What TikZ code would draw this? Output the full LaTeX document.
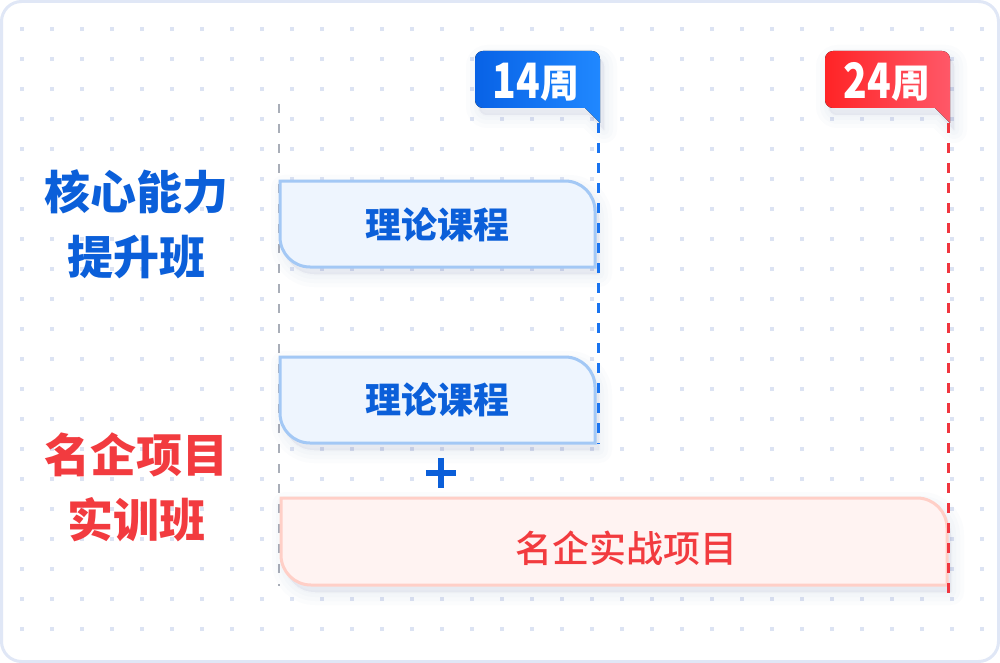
\documentclass[tikz,border=0pt]{standalone}
\usepackage{fontspec}
\newfontfamily\cjk{Noto Sans CJK SC}
\newfontfamily\cjkmed{Noto Sans CJK SC Medium}
\definecolor{framec}{HTML}{E0E7F6}
\definecolor{dotc}{HTML}{DCE3F3}
\definecolor{grayd}{HTML}{A9AEB8}
\definecolor{bfill}{HTML}{EEF5FE}
\definecolor{bline}{HTML}{A3C8F5}
\definecolor{btext}{HTML}{0B5FD9}
\definecolor{bdash}{HTML}{1A74F0}
\definecolor{rfill}{HTML}{FFF3F2}
\definecolor{rline}{HTML}{FFCFC7}
\definecolor{rtext}{HTML}{F23B3F}
\definecolor{rdash}{HTML}{F0363F}
\definecolor{tagb1}{HTML}{0862E6}
\definecolor{tagb2}{HTML}{2088FF}
\definecolor{tagr1}{HTML}{FF2426}
\definecolor{tagr2}{HTML}{FF5868}
\definecolor{shadc}{HTML}{5A6AAA}
\tikzset{
  lbl/.style={inner sep=0pt, font=\cjk\bfseries\fontsize{46}{46}\selectfont},
  boxtxt/.style={inner sep=0pt, text=btext, font=\cjk\bfseries\fontsize{36}{36}\selectfont},
  redtxt/.style={inner sep=0pt, text=rtext, font=\cjkmed\fontsize{37}{37}\selectfont},
  tagtxt/.style={inner sep=0pt, text=white, font=\cjk\bfseries\fontsize{39}{39}\selectfont},
  bluebox/.style={fill=bfill, draw=bline, line width=3pt},
  redbox/.style={fill=rfill, draw=rline, line width=3pt},
  shadowlayer/.style={fill=shadc, draw=shadc, line join=round, fill opacity=0.02, draw opacity=0.02},
  dashln/.style={line width=2.5pt, dash pattern=on 10pt off 10pt},
}
\def\pathA{(280,181) -- (565,181) .. controls (581.6,181) and (595,194.4) .. (595,211) -- (595,267) -- (310,267) .. controls (293.4,267) and (280,253.6) .. (280,237) -- cycle}
\def\pathB{(280,357) -- (565,357) .. controls (581.6,357) and (595,370.4) .. (595,387) -- (595,443) -- (310,443) .. controls (293.4,443) and (280,429.6) .. (280,413) -- cycle}
\def\pathC{(281,498) -- (917,498) .. controls (933.6,498) and (947,511.4) .. (947,528) -- (947,585) -- (311,585) .. controls (294.4,585) and (281,571.6) .. (281,555) -- cycle}
\def\pathT{(483,51) -- (592,51) .. controls (596.4,51) and (600,54.6) .. (600,59) -- (600,123) -- (585,108) -- (483,108) .. controls (478.6,108) and (475,104.4) .. (475,100) -- (475,59) .. controls (475,54.6) and (478.6,51) .. (483,51) -- cycle}
\def\pathU{(833,51) -- (942,51) .. controls (946.4,51) and (950,54.6) .. (950,59) -- (950,123) -- (935,108) -- (833,108) .. controls (828.6,108) and (825,104.4) .. (825,100) -- (825,59) .. controls (825,54.6) and (828.6,51) .. (833,51) -- cycle}
\begin{document}
\begin{tikzpicture}[x=1pt,y=-1pt]
\useasboundingbox (0,0) rectangle (1000,663);
% frame
\draw[draw=framec, fill=white, line width=3pt, rounded corners=20pt] (1.5,1.5) rectangle (998.5,661.5);
% dots
\foreach \i in {0,...,32}{
  \foreach \j in {0,...,20}{
    \fill[dotc] ({20+30*\i},{27+30*\j}) rectangle +(4,4);
  }
}
% gray dashed start line
\coordinate (g1) at (279,104);
\coordinate (g2) at (279,586);
\draw[dashln, draw=grayd, dash pattern=on 9pt off 11pt] (g1) -- (g2);
% soft shadows
\begin{scope}[shift={(4,7)}]
  \foreach \w in {26,18,10,3}{
    \filldraw[shadowlayer, line width=\w pt] \pathA;
    \filldraw[shadowlayer, line width=\w pt] \pathB;
    \filldraw[shadowlayer, line width=\w pt] \pathC;
    \filldraw[shadowlayer, line width=\w pt] \pathT;
    \filldraw[shadowlayer, line width=\w pt] \pathU;
  }
\end{scope}
% boxes
\draw[bluebox] \pathA;
\draw[bluebox] \pathB;
\draw[redbox] \pathC;
% dashed milestone lines
\coordinate (tip14) at (598.5,123);
\coordinate (end14) at (598.5,444);
\coordinate (tip24) at (948.5,123);
\coordinate (end24) at (948.5,596);
\draw[dashln, draw=bdash] (tip14) -- (end14);
\draw[dashln, draw=rdash] (tip24) -- (end24);
% tags
\fill[left color=tagb1, right color=tagb2] \pathT;
\fill[left color=tagr1, right color=tagr2] \pathU;
\node[tagtxt] (t14) at (536,82) {\raisebox{-0.5pt}{\scalebox{1}[1.25]{14}}周};
\node[tagtxt] (t24) at (887,82) {\raisebox{-0.5pt}{\scalebox{1}[1.25]{24}}周};
% left labels
\node[lbl, text=btext] (l1a) at (136,192) {核心能力};
\node[lbl, text=btext] (l1b) at (136,257) {提升班};
\node[lbl, text=rtext] (l2a) at (136,455) {名企项目};
\node[lbl, text=rtext] (l2b) at (136,520) {实训班};
% box texts
\node[boxtxt] (c1) at (437,225) {理论课程};
\node[boxtxt] (c2) at (437,400) {理论课程};
\node[redtxt] (p1) at (626,548) {名企实战项目};
% plus
\node[inner sep=0pt, minimum size=30pt] (plus) at (441,473) {};
\draw[draw=btext, line width=6pt] (plus.west) -- (plus.east);
\draw[draw=btext, line width=6pt] (plus.north) -- (plus.south);
\end{tikzpicture}
\end{document}
